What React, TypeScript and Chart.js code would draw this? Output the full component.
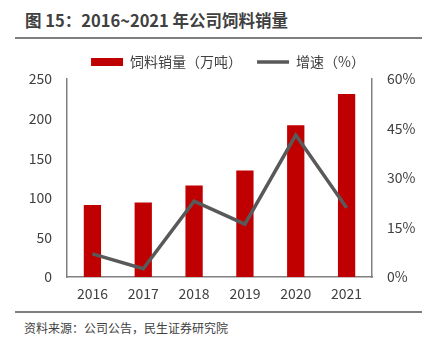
import React, { useEffect, useRef } from "react";
import { Chart, registerables } from "chart.js";

Chart.register(...registerables);

const years = ["2016", "2017", "2018", "2019", "2020", "2021"];
const feedSales = [91, 94, 115.5, 134.5, 191.5, 231];
const growthRate = [7, 2.5, 23, 16, 43, 21];
const barLabel = "饲料销量（万吨）";
const lineLabel = "增速（%）";
const titleText = "图 15：2016~2021 年公司饲料销量";
const sourceText = "资料来源：公司公告，民生证券研究院";

const FONT = '"Noto Sans CJK SC", "Microsoft YaHei", sans-serif';

export default function App() {
  const ref = useRef<HTMLCanvasElement>(null);
  useEffect(() => {
    if (!ref.current) return;
    const chart = new Chart(ref.current, {
      type: "bar",
      data: {
        labels: years,
        datasets: [
          {
            type: "bar",
            label: barLabel,
            data: feedSales,
            backgroundColor: "#C00000",
            borderWidth: 0,
            barPercentage: 0.34,
            categoryPercentage: 1,
            yAxisID: "y",
            order: 2,
          },
          {
            type: "line",
            label: lineLabel,
            data: growthRate,
            borderColor: "#595959",
            backgroundColor: "#595959",
            borderWidth: 3.5,
            pointRadius: 0,
            tension: 0,
            yAxisID: "y1",
            order: 1,
          },
        ],
      },
      options: {
        animation: false,
        responsive: false,
        maintainAspectRatio: false,
        layout: { padding: { left: 21, right: 0, top: 0, bottom: 0 } },
        plugins: {
          tooltip: { enabled: false },
          legend: {
            position: "top",
            align: "center",
            reverse: true,
            labels: {
              usePointStyle: true,
              pointStyleWidth: 32,
              boxHeight: 8,
              padding: 15,
              color: "#404040",
              font: { family: FONT, size: 14 },
              generateLabels: (c: any) => {
                const items = Chart.defaults.plugins.legend.labels.generateLabels(c);
                return items.map((it: any) => {
                  if (it.datasetIndex === 0) {
                    return { ...it, pointStyle: "rect", lineWidth: 0, fillStyle: "#C00000", strokeStyle: "#C00000" };
                  }
                  return { ...it, pointStyle: "line", lineWidth: 3.5, strokeStyle: "#595959" };
                });
              },
            },
          },
        },
        scales: {
          x: {
            grid: { display: false, drawTicks: false },
            border: { display: true, color: "#808080", width: 1.5 },
            ticks: { color: "#404040", font: { family: FONT, size: 14 }, padding: 8 },
            afterFit: (s: any) => {
              s.height = 32;
            },
          },
          y: {
            position: "left",
            min: 0,
            max: 250,
            grid: { display: false, drawTicks: false },
            border: { display: true, color: "#808080", width: 1.5 },
            ticks: { stepSize: 50, color: "#404040", font: { family: FONT, size: 14 }, padding: 15 },
            afterFit: (s: any) => {
              s.width = 46;
            },
          },
          y1: {
            position: "right",
            min: 0,
            max: 60,
            grid: { display: false, drawTicks: false },
            border: { display: true, color: "#808080", width: 1.5 },
            ticks: {
              stepSize: 15,
              color: "#404040",
              font: { family: FONT, size: 14 },
              padding: 15,
              callback: (v: any) => v + "%",
            },
            afterFit: (s: any) => {
              s.width = 63;
            },
          },
        },
      },
    });
    return () => chart.destroy();
  }, []);

  return (
    <div style={{ position: "absolute", left: 0, top: 0, width: 435, height: 339, background: "#fff", fontFamily: FONT }}>
      <div style={{ position: "absolute", left: 25, top: 8, fontSize: 16.5, fontWeight: 700, color: "#404040", whiteSpace: "nowrap", lineHeight: "24px" }}>
        {titleText}
      </div>
      <div style={{ position: "absolute", left: 15, top: 37, width: 407, height: 2, background: "#7f7f7f" }} />
      <canvas ref={ref} width={435} height={269} style={{ position: "absolute", left: 0, top: 40, width: 435, height: 269 }} />
      <div style={{ position: "absolute", left: 15, top: 311, width: 407, height: 2, background: "#7f7f7f" }} />
      <div style={{ position: "absolute", left: 24, top: 319, fontSize: 12, color: "#404040", whiteSpace: "nowrap", lineHeight: "18px" }}>
        {sourceText}
      </div>
    </div>
  );
}
